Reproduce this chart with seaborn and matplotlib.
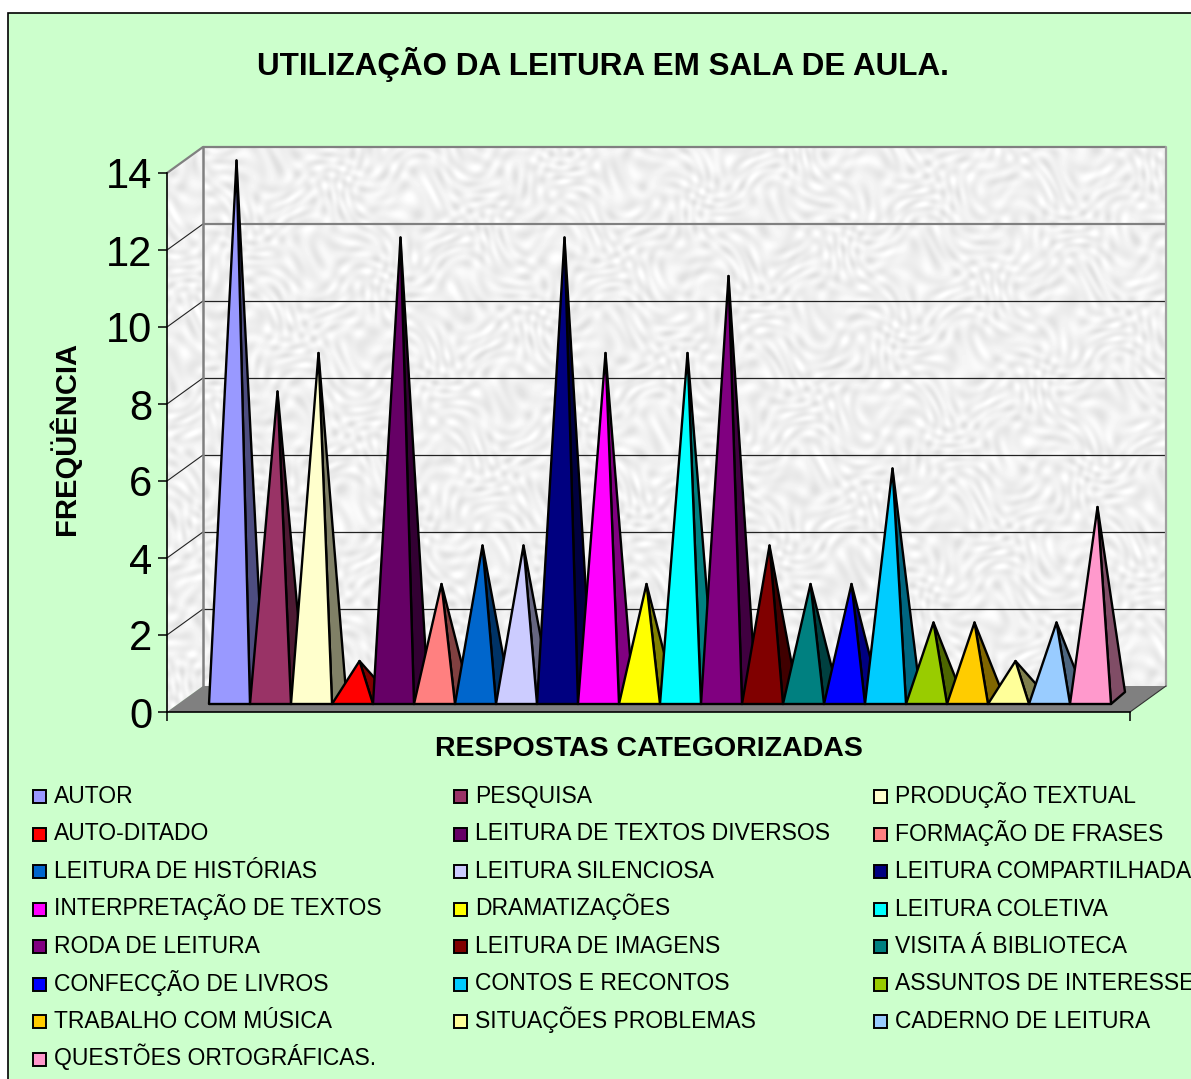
import matplotlib
matplotlib.use("Agg")
import matplotlib.pyplot as plt
import numpy as np
import pandas as pd
import seaborn as sns
from matplotlib.patches import Polygon, Rectangle

sns.set_theme(style="white")
plt.rcParams['font.family'] = ['Liberation Sans', 'DejaVu Sans']

categories = ['AUTOR', 'PESQUISA', 'PRODUÇÃO TEXTUAL', 'AUTO-DITADO', 'LEITURA DE TEXTOS DIVERSOS',
              'FORMAÇÃO DE FRASES', 'LEITURA DE HISTÓRIAS', 'LEITURA SILENCIOSA', 'LEITURA COMPARTILHADA',
              'INTERPRETAÇÃO DE TEXTOS', 'DRAMATIZAÇÕES', 'LEITURA COLETIVA', 'RODA DE LEITURA',
              'LEITURA DE IMAGENS', 'VISITA Á BIBLIOTECA', 'CONFECÇÃO DE LIVROS', 'CONTOS E RECONTOS',
              'ASSUNTOS DE INTERESSE', 'TRABALHO COM MÚSICA', 'SITUAÇÕES PROBLEMAS', 'CADERNO DE LEITURA',
              'QUESTÕES ORTOGRÁFICAS.']
values = [14, 8, 9, 1, 12, 3, 4, 4, 12, 9, 3, 9, 11, 4, 3, 3, 6, 2, 2, 1, 2, 5]
colors = ['#9999FF', '#993366', '#FFFFCC', '#FF0000', '#660066', '#FF8080', '#0066CC', '#CCCCFF',
          '#000080', '#FF00FF', '#FFFF00', '#00FFFF', '#800080', '#800000', '#008080', '#0000FF',
          '#00CCFF', '#99CC00', '#FFCC00', '#FFFF99', '#99CCFF', '#FF99CC']
y_ticks = [0, 2, 4, 6, 8, 10, 12, 14]

W, H = 1191, 1079
GREEN = '#CCFFCC'
# pixel frame of the fake 3D box
X0, X1, Y0, Y14 = 167, 1130, 712, 173
DX, DY = 36, 26
PX_CAT, PX_UNIT = 41.0, (Y0 - Y14) / 14

fig = plt.figure(figsize=(W / 100, H / 100), dpi=100, facecolor='white')

# background layer in pixels: page, walls, floor
bg = fig.add_axes([0, 0, 1, 1], zorder=0)
bg.set_xlim(0, W)
bg.set_ylim(H, 0)
bg.axis('off')
bg.add_patch(Rectangle((8, 13), W, H, facecolor=GREEN, edgecolor='black', linewidth=1.2, zorder=-1))

# mottled wall texture (plain sines, only decoration)
xx, yy = np.meshgrid(np.arange(X0, X1 + DX + 1), np.arange(Y14 - DY, Y0 + 1))
warp_a = 3.1 * np.sin(0.031 * xx + 0.047 * yy) + 2.3 * np.sin(0.083 * yy - 0.059 * xx)
warp_b = 2.7 * np.sin(0.053 * xx - 0.029 * yy) + 2.9 * np.sin(0.071 * xx + 0.037 * yy)
tex = (np.sin(0.31 * xx + 0.17 * yy + warp_a) + np.sin(0.19 * xx - 0.37 * yy + warp_b)
       + np.sin(0.43 * yy + 0.07 * xx + warp_a - warp_b) + np.sin(0.41 * xx - 0.11 * yy + warp_a + warp_b)
       + 0.8 * np.sin(0.13 * xx + 0.23 * yy - warp_b))
tex = 240 + 3.6 * tex
extent = (X0, X1 + DX + 1, Y0 + 1, Y14 - DY)
back = bg.imshow(tex, cmap='gray', vmin=0, vmax=255, extent=extent, aspect='auto', interpolation='bilinear')
back.set_clip_path(Polygon([(X0 + DX, Y14 - DY), (X1 + DX, Y14 - DY), (X1 + DX, Y0 - DY), (X0 + DX, Y0 - DY)],
                           transform=bg.transData))
side = bg.imshow(tex[::-1, ::-1], cmap='gray', vmin=0, vmax=255, extent=extent, aspect='auto', interpolation='bilinear')
side.set_clip_path(Polygon([(X0, Y14), (X0 + DX, Y14 - DY), (X0 + DX, Y0 - DY), (X0, Y0)], transform=bg.transData))
bg.set_xlim(0, W)
bg.set_ylim(H, 0)

bg.add_patch(Polygon([(X0, Y0), (X0 + DX, Y0 - DY), (X1 + DX, Y0 - DY), (X1, Y0)], facecolor='#808080',
                     edgecolor='none'))
for v in y_ticks[1:]:
    py = Y0 - v * PX_UNIT
    grey = v >= 12
    bg.plot([X0 + DX, X1 + DX], [py - DY, py - DY], color='#808080' if grey else '#222222',
            lw=1.6 if grey else 0.9, solid_capstyle='butt')
    bg.plot([X0, X0 + DX], [py, py - DY], color='#808080' if v == 14 else '#222222', lw=1.6 if v == 14 else 0.8)
bg.plot([X0 + DX, X0 + DX], [Y14 - DY, Y0 - DY], color='#808080', lw=1.8)
bg.plot([X1 + DX, X1 + DX], [Y14 - DY, Y0 - DY], color='#A0A0A0', lw=1.6)
bg.plot([X1, X1 + DX], [Y0, Y0 - DY], color='#333333', lw=0.8)

# chart axes sit exactly on the front plane
ax = fig.add_axes([X0 / W, 1 - Y0 / H, (X1 - X0) / W, (Y0 - Y14) / H], zorder=1)
ax.patch.set_alpha(0)

df = pd.DataFrame({'categoria': categories, 'freq': values})
sns.barplot(data=df, x='categoria', y='freq', hue='categoria', palette=colors, legend=False,
            width=1, ax=ax)

# bars become pyramids: take each bar from seaborn and redraw it with depth
base_up = 8 / PX_UNIT
depth_x, depth_y = 14 / PX_CAT, 12 / PX_UNIT
apex_up = 12.5 / PX_UNIT
edge = dict(edgecolor='black', linewidth=1.7, joinstyle='round', clip_on=False)
for bar, col in zip(ax.patches, colors):
    left, right, h = bar.get_x(), bar.get_x() + bar.get_width(), bar.get_height()
    bar.set_visible(False)
    apex = ((left + right) / 2 + depth_x / 2, apex_up + h)
    dark = tuple(c * 0.5 for c in matplotlib.colors.to_rgb(col))
    ax.add_patch(Polygon([apex, (right, base_up), (right + depth_x, base_up + depth_y)], facecolor=dark, **edge))
    ax.add_patch(Polygon([apex, (left, base_up), (right, base_up)], facecolor=col, **edge))

ax.set_xlim((X0 - 229.5) / PX_CAT, (X1 - 229.5) / PX_CAT)
ax.set_ylim(0, 14)
ax.set_yticks(y_ticks)
ax.set_xticks(ax.get_xlim())
ax.set_xticklabels(['', ''])
ax.tick_params(axis='y', labelsize=30, length=6.5, width=1.1, color='black', pad=4, left=True, labelcolor='black')
ax.tick_params(axis='x', length=6.5, width=1.1, color='black', bottom=True)
ax.set_xlabel('')
ax.set_ylabel('')
for name in ['top', 'right']:
    ax.spines[name].set_visible(False)
for name in ['left', 'bottom']:
    ax.spines[name].set_color('black')
    ax.spines[name].set_linewidth(1.2)

fig.text(602.5 / W, 1 - 64 / H, 'UTILIZAÇÃO DA LEITURA EM SALA DE AULA.', ha='center', va='center',
         fontsize=22.6, fontweight='bold', color='black')
fig.text(649 / W, 1 - 749 / H, 'RESPOSTAS CATEGORIZADAS', ha='center', va='center',
         fontsize=20.5, fontweight='bold', color='black')
fig.text(65 / W, 1 - 439 / H, 'FREQÜÊNCIA', ha='center', va='center', rotation=90,
         fontsize=21, fontweight='bold', color='black')

# legend runs row by row with three fixed columns, baselines at an even pitch
for i, label in enumerate(categories):
    px = [33, 454, 874][i % 3]
    base = 803 + 37.5 * (i // 3)
    bg.add_patch(Rectangle((px, base - 13), 13, 13, facecolor=colors[i], edgecolor='black', linewidth=1.4))
    fig.text((px + 21) / W, 1 - base / H, label, ha='left', va='baseline', fontsize=16.45, color='black')

fig.savefig('out.png', dpi=100, facecolor=fig.get_facecolor())
